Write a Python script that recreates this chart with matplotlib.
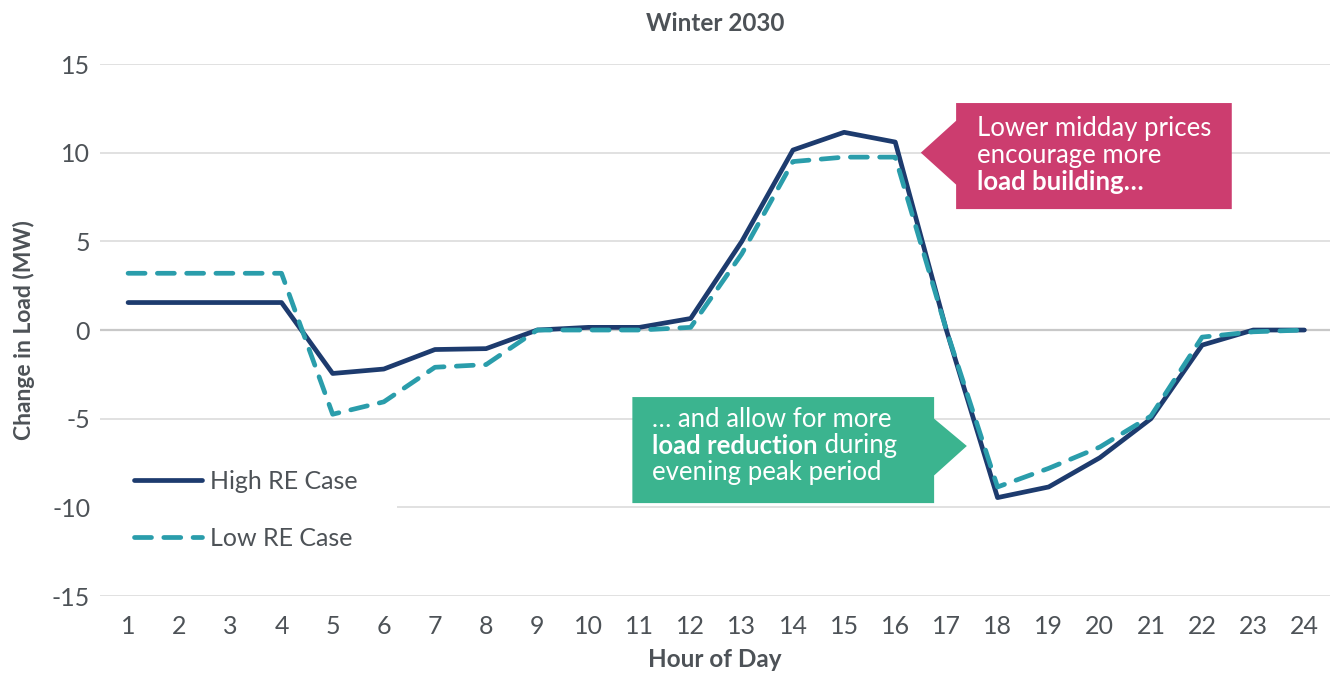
import matplotlib
matplotlib.use("Agg")
import matplotlib.pyplot as plt
from matplotlib.patches import Polygon, Rectangle

plt.rcParams['font.family'] = ['Lato', 'DejaVu Sans']
plt.rcParams['axes.unicode_minus'] = False

hours = list(range(1, 25))
high_re = [1.55, 1.55, 1.55, 1.55, -2.45, -2.2, -1.1, -1.05, 0.0, 0.15, 0.15, 0.65,
           5.0, 10.15, 11.15, 10.6, 0.0, -9.45, -8.85, -7.2, -5.0, -0.85, 0.0, 0.0]
low_re = [3.2, 3.2, 3.2, 3.2, -4.75, -4.05, -2.1, -1.95, 0.0, 0.0, 0.0, 0.15,
          4.3, 9.5, 9.75, 9.75, 0.0, -8.85, -7.8, -6.6, -4.85, -0.4, -0.1, 0.0]
y_ticks = [-15, -10, -5, 0, 5, 10, 15]

NAVY = '#1d3b6e'
TEAL = '#2a9dab'
PINK = '#cc3d6f'
GREEN = '#3bb48f'
GREY = '#4d5257'

fig = plt.figure(figsize=(13.38, 6.74), dpi=100)
ax = fig.add_axes([0.0747, 0.1157, 0.9193, 0.7893])

for yv in y_ticks:
    ax.axhline(yv, color='#c8c8c8' if yv == 0 else '#dcdcdc',
               lw=1.6 if yv == 0 else 1.2, zorder=0)

# white panel behind the legend, hiding part of the -10 gridline
ax.add_patch(Rectangle((0.3, -11.5), 5.95, 3.0, facecolor='white',
                       edgecolor='none', zorder=1))

ax.plot(hours, high_re, color=NAVY, lw=3.4, solid_capstyle='round',
        solid_joinstyle='round', label='High RE Case', zorder=3)
ax.plot(hours, low_re, color=TEAL, lw=3.4, dashes=(3.6, 2.6),
        dash_capstyle='round', label='Low RE Case', zorder=4)

ax.set_xlim(0.45, 24.5)
ax.set_ylim(-15, 15)
ax.set_xticks(hours)
ax.set_yticks(y_ticks)
ax.tick_params(axis='y', length=0, labelsize=18, labelcolor=GREY, pad=7)
ax.tick_params(axis='x', length=0, labelsize=18, labelcolor=GREY, pad=14)
for s in ax.spines.values():
    s.set_visible(False)

ax.set_xlabel('Hour of Day', fontsize=17.5, fontweight='bold', color=GREY, labelpad=7)
ax.set_ylabel('Change in Load (MW)', fontsize=16.5, fontweight='bold', color=GREY, labelpad=12)
ax.set_title('Winter 2030', fontsize=17.5, fontweight='bold', color=GREY, pad=24)

leg = ax.legend(loc='lower left', bbox_to_anchor=(0.009, 0.045), frameon=False,
                fontsize=18, handlelength=2.75, handletextpad=0.3,
                labelspacing=1.35, borderpad=0.9, borderaxespad=0)
for t in leg.get_texts():
    t.set_color(GREY)
leg.set_zorder(5)

# Callout: midday load building
pink = Polygon([(16.5, 10.0), (17.19, 11.8), (17.19, 12.8), (22.58, 12.8),
                (22.58, 6.82), (17.19, 6.82), (17.19, 8.2)],
               closed=True, facecolor=PINK, edgecolor='none', zorder=6)
ax.add_patch(pink)
tx = 17.6
ax.text(tx, 11.35, 'Lower midday prices', color='white', fontsize=18.5,
        va='center', ha='left', zorder=7)
ax.text(tx, 9.85, 'encourage more', color='white', fontsize=18.5,
        va='center', ha='left', zorder=7)
ax.text(tx, 8.35, 'load building…', color='white', fontsize=18.5,
        fontweight='bold', va='center', ha='left', zorder=7)

# Callout: evening load reduction
green = Polygon([(10.86, -3.78), (16.76, -3.78), (16.76, -5.0), (17.4, -6.54),
                 (16.76, -8.2), (16.76, -9.76), (10.86, -9.76)],
                closed=True, facecolor=GREEN, edgecolor='none', zorder=6)
ax.add_patch(green)
gx = 11.25
ax.text(gx, -5.05, '… and allow for more', color='white', fontsize=18.5,
        va='center', ha='left', zorder=7)
t_bold = ax.text(gx, -6.55, 'load reduction', color='white', fontsize=18.5,
                 fontweight='bold', va='center', ha='left', zorder=7)
ax.annotate(' during', xy=(1, 0), xycoords=t_bold, va='bottom', ha='left',
            color='white', fontsize=18.5, zorder=7)
ax.text(gx, -8.05, 'evening peak period', color='white', fontsize=18.5,
        va='center', ha='left', zorder=7)

fig.savefig('out.png', dpi=100, facecolor='white')
